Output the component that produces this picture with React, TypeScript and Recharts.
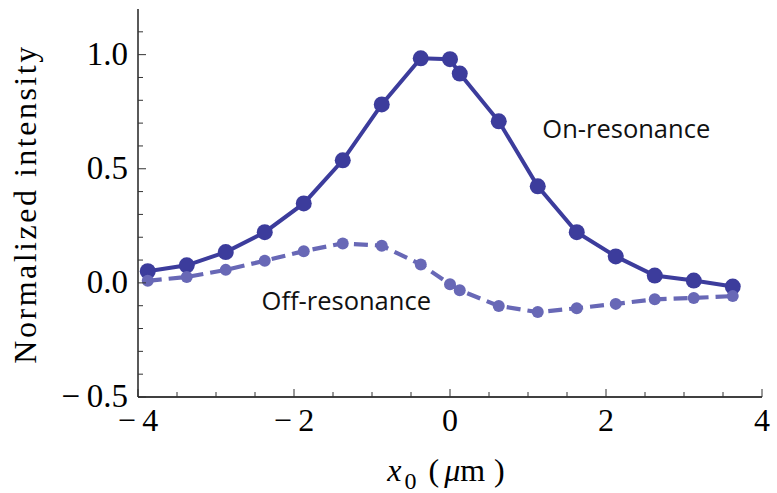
import React from 'react';
import { LineChart, Line, XAxis, YAxis, ReferenceDot } from 'recharts';

// scan positions x0 (um) and the two measured curves
const positions = [-3.875, -3.375, -2.875, -2.375, -1.875, -1.375, -0.875, -0.375, 0, 0.125, 0.625, 1.125, 1.625, 2.125, 2.625, 3.125, 3.625];
const onResonance = [0.051, 0.077, 0.135, 0.222, 0.348, 0.537, 0.782, 0.984, 0.98, 0.917, 0.708, 0.423, 0.222, 0.116, 0.032, 0.01, -0.016];
const offResonance = [0.009, 0.026, 0.057, 0.097, 0.139, 0.173, 0.163, 0.081, -0.006, -0.032, -0.101, -0.128, -0.111, -0.092, -0.072, -0.066, -0.058];

const xTicks = [-4, -3.5, -3, -2.5, -2, -1.5, -1, -0.5, 0, 0.5, 1, 1.5, 2, 2.5, 3, 3.5, 4];
const xMajor = [-4, -2, 0, 2, 4];
const yTicks = [-0.5, -0.4, -0.3, -0.2, -0.1, 0, 0.1, 0.2, 0.3, 0.4, 0.5, 0.6, 0.7, 0.8, 0.9, 1, 1.1];
const yMajor = [-0.5, 0, 0.5, 1];

const data = positions.map((x, i) => ({ x, on: onResonance[i], off: offResonance[i] }));

const ON_COLOR = '#3c3c9c';
const OFF_COLOR = '#6868b6';
const SERIF = '"Liberation Serif", "DejaVu Serif", serif';
const SANS = '"Open Sans", "Noto Sans", sans-serif';
const TICK_COLOR = '#333';

const minus = (s: string) => '\u2212\u2009' + s;
const fmtX = (v: number) => (v < 0 ? minus(String(Math.abs(v))) : String(v));
const fmtY = (v: number) => (v < 0 ? minus(Math.abs(v).toFixed(1)) : v.toFixed(1));

const BottomTick = (props: any) => {
  const { x, y, payload } = props;
  const major = xMajor.includes(payload.value);
  return (
    <g>
      <line x1={x} x2={x} y1={y} y2={y - (major ? 8 : 5)} stroke={TICK_COLOR} strokeWidth={1} />
      {major && (
        <text x={x} y={y + 34} textAnchor="middle" fontFamily={SERIF} fontSize={32} fill="#000">
          {fmtX(payload.value)}
        </text>
      )}
    </g>
  );
};

const TopTick = (props: any) => {
  const { x, y, payload } = props;
  const major = xMajor.includes(payload.value);
  return <line x1={x} x2={x} y1={y} y2={y + (major ? 7 : 4)} stroke={TICK_COLOR} strokeWidth={1} />;
};

const LeftTick = (props: any) => {
  const { x, y, payload } = props;
  const major = yMajor.includes(payload.value);
  return (
    <g>
      <line x1={x} x2={x + (major ? 8 : 5)} y1={y} y2={y} stroke={TICK_COLOR} strokeWidth={1} />
      {major && (
        <text x={x - 10} y={y + 10} textAnchor="end" fontFamily={SERIF} fontSize={33} fill="#000">
          {fmtY(payload.value)}
        </text>
      )}
    </g>
  );
};

const RightTick = (props: any) => {
  const { x, y, payload } = props;
  const major = yMajor.includes(payload.value);
  return <line x1={x} x2={x - (major ? 8 : 5)} y1={y} y2={y} stroke={TICK_COLOR} strokeWidth={1} />;
};

const YTitle = (props: any) => {
  const { viewBox } = props;
  const cx = viewBox.x + 25;
  const cy = viewBox.y + viewBox.height / 2 + 1;
  return (
    <text
      x={cx}
      y={cy}
      transform={`rotate(-90, ${cx}, ${cy})`}
      textAnchor="middle"
      dominantBaseline="central"
      fontFamily={SERIF}
      fontSize={32}
      letterSpacing={2.5}
      fill="#000"
    >
      Normalized intensity
    </text>
  );
};

const XTitle = (props: any) => {
  const { viewBox } = props;
  const cx = viewBox.x + viewBox.width / 2 - 4;
  return (
    <text x={cx} y={viewBox.y + 84} textAnchor="middle" fontFamily={SERIF} fontSize={32} fill="#000">
      <tspan fontStyle="italic">x</tspan>
      <tspan fontSize={24} dy={8} dx={3}>0</tspan>
      <tspan dy={-8} dx={12}>(</tspan>
      <tspan fontStyle="italic" dx={5}>μ</tspan>
      <tspan>m</tspan>
      <tspan dx={9}>)</tspan>
    </text>
  );
};

const curveLabel = (text: string) => (props: any) => {
  const { viewBox } = props;
  return (
    <text
      x={viewBox.x}
      y={viewBox.y}
      textAnchor="middle"
      dominantBaseline="central"
      fontFamily={SANS}
      fontSize={25.5}
      fill="#111"
    >
      {text}
    </text>
  );
};

export default function App() {
  return (
    <div style={{ position: 'absolute', left: 0, top: 0, background: '#fff' }}>
      <LineChart width={777} height={493} data={data} margin={{ top: 9, right: 15, bottom: 0, left: 0 }}>
        <XAxis
          dataKey="x"
          type="number"
          domain={[-4, 4]}
          ticks={xTicks}
          interval={0}
          allowDataOverflow
          height={96}
          tickSize={0}
          tickMargin={0}
          tickLine={false}
          tick={<BottomTick />}
          axisLine={{ stroke: '#000', strokeWidth: 1.3 }}
          label={<XTitle />}
        />
        <XAxis
          xAxisId="top"
          orientation="top"
          dataKey="x"
          type="number"
          domain={[-4, 4]}
          ticks={xTicks}
          interval={0}
          allowDataOverflow
          height={0}
          tickSize={0}
          tickMargin={0}
          tickLine={false}
          tick={<TopTick />}
          axisLine={{ stroke: '#000', strokeWidth: 1.3 }}
        />
        <YAxis
          type="number"
          domain={[-0.5, 1.2]}
          ticks={yTicks}
          interval={0}
          allowDataOverflow
          width={138}
          tickSize={0}
          tickMargin={0}
          tickLine={false}
          tick={<LeftTick />}
          axisLine={{ stroke: '#000', strokeWidth: 1.3 }}
          label={<YTitle />}
        />
        <YAxis
          yAxisId="right"
          orientation="right"
          type="number"
          domain={[-0.5, 1.2]}
          ticks={yTicks}
          interval={0}
          allowDataOverflow
          width={0}
          tickSize={0}
          tickMargin={0}
          tickLine={false}
          tick={<RightTick />}
          axisLine={{ stroke: '#000', strokeWidth: 1.3 }}
        />
        <Line
          dataKey="on"
          type="linear"
          stroke={ON_COLOR}
          strokeWidth={4}
          dot={{ r: 8, fill: ON_COLOR, stroke: 'none' }}
          activeDot={false}
          isAnimationActive={false}
        />
        <Line
          dataKey="off"
          type="linear"
          stroke={OFF_COLOR}
          strokeWidth={4.2}
          strokeDasharray="14 7"
          dot={{ r: 6, fill: OFF_COLOR, stroke: 'none', strokeDasharray: '0' }}
          activeDot={false}
          isAnimationActive={false}
        />
        <ReferenceDot x={2.26} y={0.677} r={0} fill="none" stroke="none" label={curveLabel('On-resonance')} />
        <ReferenceDot x={-1.33} y={-0.076} r={0} fill="none" stroke="none" label={curveLabel('Off-resonance')} />
      </LineChart>
    </div>
  );
}
